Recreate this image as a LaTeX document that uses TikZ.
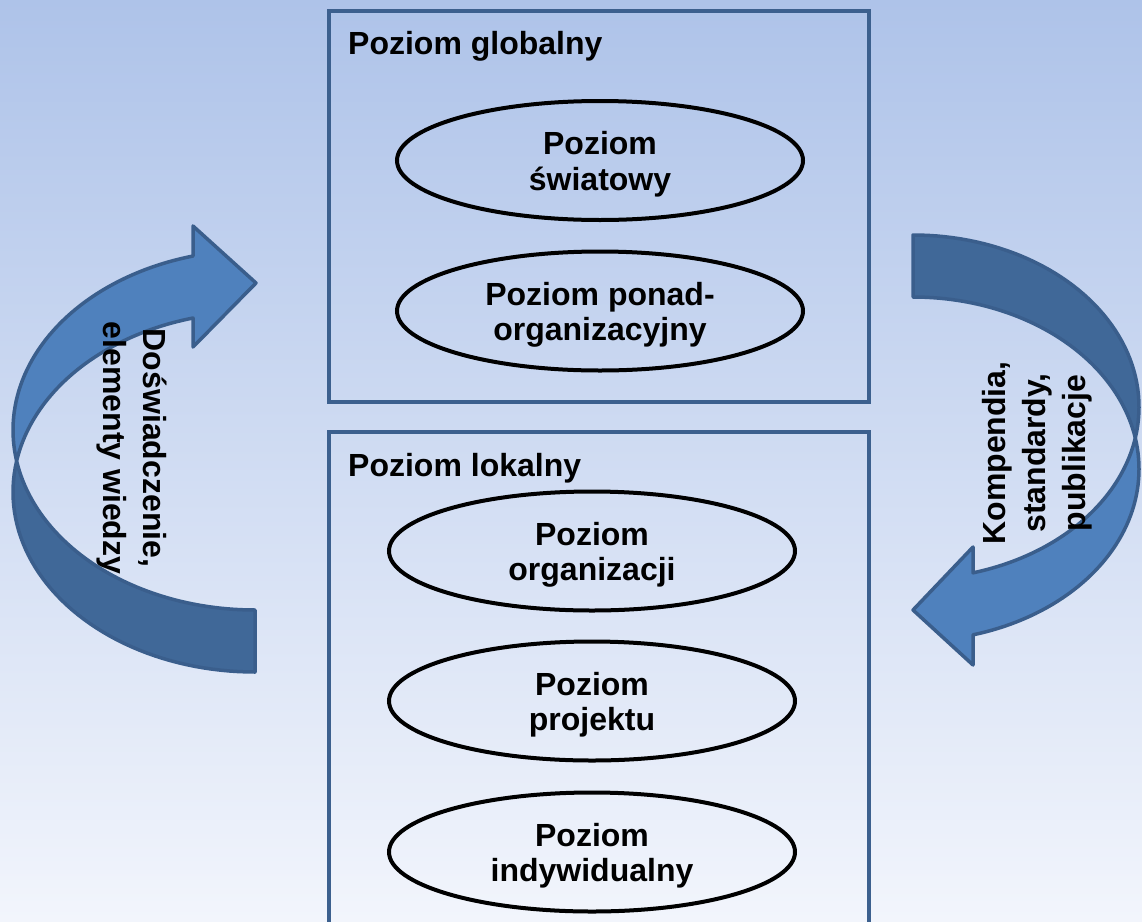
\documentclass[tikz,border=0pt]{standalone}
\usepackage{fontspec}
\setmainfont{Liberation Sans}
\usetikzlibrary{shapes.geometric}
\definecolor{bgtop}{RGB}{174,195,233}
\definecolor{bgbot}{RGB}{242,245,252}
\definecolor{frame}{RGB}{60,96,142}
\definecolor{arlight}{RGB}{79,129,189}
\definecolor{ardark}{RGB}{64,104,152}
\definecolor{arline}{RGB}{58,94,140}
\newcommand{\toppad}{\rule{0pt}{31pt}}
\begin{document}
\begin{tikzpicture}[x=1pt,y=-1pt,
  levelbox/.style={draw=frame,line width=4pt,inner sep=0pt},
  oval/.style={ellipse,draw=black,line width=4pt,minimum width=406pt,minimum height=119pt,inner sep=0pt,align=center,font=\bfseries\fontsize{32}{35.5}\selectfont},
  ttl/.style={anchor=base west,inner sep=0pt,font=\bfseries\fontsize{32}{36}\selectfont},
  arrowtxt/.style={align=center,inner sep=0pt,font=\bfseries\fontsize{32}{40}\selectfont},
  arrowlight/.style={fill=arlight,draw=arline,line width=3.5pt,line join=round},
  arrowdark/.style={fill=ardark,draw=arline,line width=3.5pt,line join=round}]
\useasboundingbox (0,0) rectangle (1142,921);
\begin{scope}
\clip (0,0) rectangle (1142,921);
\shade[top color=bgtop,bottom color=bgbot] (0,0) rectangle (1142,921);

% boxes
\node[levelbox,minimum width=540pt,minimum height=391pt] (global) at (599,206.5) {};
\node[levelbox,minimum width=540pt,minimum height=508pt] (local) at (599,686) {};
\node[ttl] (tg) at (348,54) {Poziom globalny};
\node[ttl] (tl) at (348,476) {Poziom lokalny};

% ellipses
\node[oval] (e1) at (600,160.5) {\toppad Poziom\\światowy};
\node[oval] (e2) at (600,311) {\toppad Poziom ponad-\\organizacyjny};
\node[oval] (e3) at (592,551) {\toppad Poziom\\organizacji};
\node[oval] (e4) at (592,701) {\toppad Poziom\\projektu};
\node[oval] (e5) at (592,852) {\toppad Poziom\\indywidualny};

% left curved arrow
\draw[arrowdark] plot[domain=170.08:90,samples=50] ({255+242*cos(\x)},{430+180*sin(\x)})
  -- plot[domain=90:189.92,samples=50] ({255+242*cos(\x)},{492+180*sin(\x)}) -- cycle;
\draw[arrowlight] plot[domain=255.16:170.08,samples=50] ({255+242*cos(\x)},{430+180*sin(\x)})
  -- plot[domain=189.92:255.16,samples=50] ({255+242*cos(\x)},{492+180*sin(\x)})
  -- (193,347) -- (256,283) -- (193,226) -- cycle;

% right curved arrow
\draw[arrowdark] plot[domain=-90:10.38,samples=50] ({913+226*cos(\x)},{407+172*sin(\x)})
  -- plot[domain=-10.38:-90,samples=50] ({913+226*cos(\x)},{469+172*sin(\x)}) -- cycle;
\draw[arrowlight] plot[domain=-10.38:74.6,samples=50] ({913+226*cos(\x)},{469+172*sin(\x)})
  -- (973,665) -- (913,610) -- (973,547)
  -- plot[domain=74.6:10.38,samples=50] ({913+226*cos(\x)},{407+172*sin(\x)}) -- cycle;

\node[arrowtxt,rotate=-90] (lt) at (132,448) {Doświadczenie,\\elementy wiedzy};
\node[arrowtxt,rotate=90] (rt) at (1037,453) {Kompendia,\\standardy,\\publikacje};
\end{scope}
\end{tikzpicture}
\end{document}
